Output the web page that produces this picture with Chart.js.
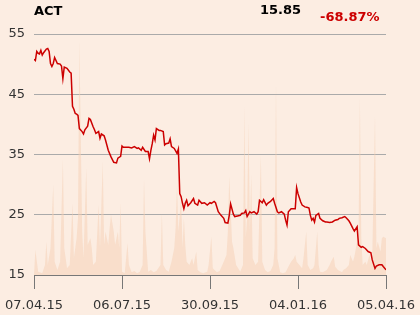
<!DOCTYPE html>
<html>
<head>
<meta charset="utf-8">
<script src="https://cdn.jsdelivr.net/npm/chart.js@4.4.1/dist/chart.umd.min.js"></script>
<style>
  html, body { margin: 0; padding: 0; background: #fcede2; }
  #wrap { position: relative; width: 420px; height: 315px; }
  .hdr { position: absolute; font-family: "DejaVu Sans", sans-serif; font-weight: bold; font-size: 13px; line-height: 15px; }
  #name { left: 34px; top: 3px; color: #000; }
  #last { left: 260px; top: 2px; color: #000; }
  #chg { left: 320px; top: 9px; color: #cc0000; }
</style>
</head>
<body>
<div id="wrap">
  <canvas id="chart" width="420" height="315"></canvas>
  <div class="hdr" id="name">ACT</div>
  <div class="hdr" id="last">15.85</div>
  <div class="hdr" id="chg">-68.87%</div>
</div>
<script>
// Etichette dell'asse x (giorni di borsa 0, 64, 128, 192, 256)
var tickLabels = ["07.04.15", "06.07.15", "30.09.15", "04.01.16", "05.04.16"];
var tickDays = [0, 64, 128, 192, 256];

// Prezzo: giorno di borsa e valore
var priceDay = [0, 1, 2, 3, 4, 5, 6, 7, 9, 10, 11, 12, 13, 14, 15, 17, 19, 20, 21, 22, 24, 26, 27, 28, 29, 30, 31, 32, 33, 35, 36, 37, 39, 40, 41, 43, 44, 45, 47, 48, 49, 51, 52, 54, 56, 58, 60, 61, 63, 64, 65, 67, 69, 71, 73, 75, 76, 78, 79, 81, 83, 84, 85, 86, 87, 88, 89, 91, 92, 94, 95, 96, 98, 99, 100, 102, 103, 104, 105, 106, 107, 108, 109, 110, 111, 112, 114, 116, 117, 119, 120, 122, 124, 126, 128, 129, 131, 132, 134, 136, 138, 139, 141, 142, 143, 145, 146, 148, 150, 151, 153, 154, 155, 157, 158, 160, 162, 163, 164, 166, 167, 169, 170, 172, 174, 175, 177, 178, 180, 182, 183, 184, 185, 187, 189, 190, 191, 192, 194, 195, 197, 199, 200, 201, 202, 203, 204, 205, 207, 208, 210, 212, 213, 215, 217, 219, 221, 222, 224, 226, 227, 229, 230, 232, 233, 235, 236, 238, 239, 241, 243, 245, 246, 248, 249, 251, 253, 254, 256];
var price = [50.8, 50.6, 52.1, 51.8, 51.7, 52.3, 51.5, 51.9, 52.5, 52.6, 52.1, 50.1, 49.6, 50.1, 51.1, 50.1, 50.0, 49.7, 47.6, 49.5, 49.3, 48.7, 48.5, 43.0, 42.5, 41.8, 41.7, 41.5, 39.3, 38.8, 38.4, 39.1, 39.7, 41.0, 40.8, 39.6, 39.1, 38.5, 38.8, 37.7, 38.4, 38.1, 37.4, 35.7, 34.6, 33.7, 33.6, 34.4, 34.7, 36.4, 36.2, 36.2, 36.2, 36.1, 36.3, 36.0, 36.1, 35.7, 36.2, 35.5, 35.5, 34.3, 35.7, 36.8, 38.2, 37.4, 39.3, 39.0, 39.0, 38.8, 36.6, 36.8, 36.9, 37.6, 36.3, 36.0, 35.6, 35.2, 35.9, 28.5, 28.0, 26.9, 26.0, 26.9, 27.4, 26.5, 27.0, 27.7, 26.9, 26.6, 27.4, 26.9, 27.0, 26.6, 27.0, 26.9, 27.2, 27.0, 25.5, 24.9, 24.4, 23.7, 23.6, 24.9, 26.8, 25.1, 24.7, 24.8, 24.9, 25.2, 25.3, 25.7, 24.7, 25.5, 25.3, 25.5, 25.1, 25.5, 27.4, 27.0, 27.5, 26.6, 26.9, 27.2, 27.7, 26.9, 25.5, 25.3, 25.5, 25.1, 24.1, 23.3, 25.5, 26.0, 26.0, 26.0, 29.5, 28.5, 27.1, 26.6, 26.3, 26.2, 26.1, 24.9, 24.1, 24.4, 23.8, 24.9, 25.2, 24.4, 24.0, 23.8, 23.8, 23.7, 23.8, 24.1, 24.2, 24.4, 24.5, 24.7, 24.5, 24.0, 23.6, 22.7, 22.3, 23.0, 20.0, 19.6, 19.7, 19.4, 18.9, 18.7, 17.5, 16.1, 16.5, 16.7, 16.7, 16.4, 15.85];

// Volumi: giorno di borsa e valore
var volDay = [0, 1, 3, 6, 8, 9, 10, 12, 14, 15, 17, 19, 21, 22, 24, 26, 28, 29, 31, 32, 33, 35, 36, 38, 39, 41, 42, 43, 45, 47, 48, 50, 51, 52, 54, 55, 56, 58, 59, 60, 61, 62, 63, 64, 66, 68, 69, 71, 73, 75, 77, 79, 80, 81, 83, 85, 87, 89, 92, 93, 94, 96, 98, 100, 102, 103, 104, 105, 107, 108, 109, 110, 111, 113, 115, 116, 118, 119, 121, 123, 126, 127, 129, 130, 133, 135, 137, 140, 141, 142, 144, 145, 147, 150, 152, 153, 154, 155, 156, 157, 158, 159, 161, 163, 165, 166, 168, 170, 172, 174, 175, 176, 177, 179, 181, 183, 185, 187, 189, 190, 191, 193, 195, 196, 198, 199, 201, 203, 204, 206, 207, 208, 210, 213, 215, 216, 218, 219, 221, 224, 225, 227, 229, 230, 232, 233, 235, 236, 237, 238, 239, 241, 242, 244, 245, 246, 248, 249, 250, 252, 253, 254, 256];
var volume = [0, 75, 10, 5, 30, 100, 30, 80, 270, 40, 15, 40, 345, 80, 20, 30, 215, 50, 110, 170, 700, 130, 50, 320, 90, 110, 80, 30, 40, 210, 80, 340, 90, 130, 90, 140, 180, 130, 90, 110, 130, 80, 215, 10, 5, 95, 30, 8, 12, 5, 10, 30, 285, 130, 10, 15, 8, 12, 30, 185, 30, 15, 10, 40, 80, 140, 270, 130, 230, 80, 170, 90, 40, 30, 50, 30, 70, 15, 8, 5, 10, 30, 115, 20, 8, 12, 30, 60, 130, 295, 100, 80, 30, 10, 30, 505, 110, 170, 455, 130, 300, 50, 30, 40, 360, 40, 15, 8, 12, 30, 80, 565, 50, 8, 5, 8, 25, 40, 50, 60, 40, 30, 20, 50, 130, 30, 15, 20, 30, 130, 30, 10, 8, 15, 30, 40, 55, 25, 15, 8, 15, 20, 30, 60, 40, 55, 100, 90, 530, 110, 30, 40, 30, 60, 40, 50, 475, 80, 100, 70, 110, 115, 110];

var priceData = priceDay.map(function (d, i) { return { x: d, y: price[i] }; });
var volData = volDay.map(function (d, i) { return { x: d, y: volume[i] }; });

var ctx = document.getElementById('chart').getContext('2d');

new Chart(ctx, {
    type: 'line',
    data: {
        datasets: [{
            label: 'Prezzo',
            data: priceData,
            yAxisID: 'y',
            borderColor: '#cc0000',
            borderWidth: 1.5,
            pointRadius: 0,
            tension: 0,
            fill: false,
            order: 1
        }, {
            label: 'Volume',
            data: volData,
            yAxisID: 'yVol',
            borderWidth: 0,
            backgroundColor: 'rgba(245, 208, 180, 0.5)',
            pointRadius: 0,
            tension: 0,
            fill: 'origin',
            order: 2
        }]
    },
    options: {
        responsive: false,
        animation: false,
        layout: { padding: { left: 0, right: 34, top: 34, bottom: 0 } },
        plugins: { legend: { display: false }, tooltip: { enabled: false } },
        scales: {
            x: {
                type: 'linear',
                min: 0,
                max: 256,
                afterBuildTicks: function (axis) {
                    axis.ticks = tickDays.map(function (d) { return { value: d }; });
                },
                afterFit: function (axis) {
                    axis.height = 40;
                    axis.paddingLeft = 0;
                    axis.paddingRight = 0;
                },
                ticks: {
                    autoSkip: false,
                    maxRotation: 0,
                    padding: 9,
                    color: '#333',
                    font: { family: 'DejaVu Sans', size: 13 },
                    callback: function (value) {
                        var i = tickDays.indexOf(value);
                        return i >= 0 ? tickLabels[i] : '';
                    }
                },
                grid: { drawOnChartArea: false, drawTicks: true, tickLength: 14, color: '#777' },
                border: { display: true, color: '#777' }
            },
            y: {
                position: 'left',
                min: 15,
                max: 55,
                afterFit: function (axis) { axis.width = 34; },
                ticks: {
                    stepSize: 10,
                    padding: 9,
                    color: '#333',
                    font: { family: 'DejaVu Sans', size: 13 }
                },
                grid: { drawTicks: false, color: '#aaa', lineWidth: 1 },
                border: { display: false }
            },
            yVol: {
                display: false,
                min: 0,
                max: 723
            }
        }
    }
});
</script>
</body>
</html>
